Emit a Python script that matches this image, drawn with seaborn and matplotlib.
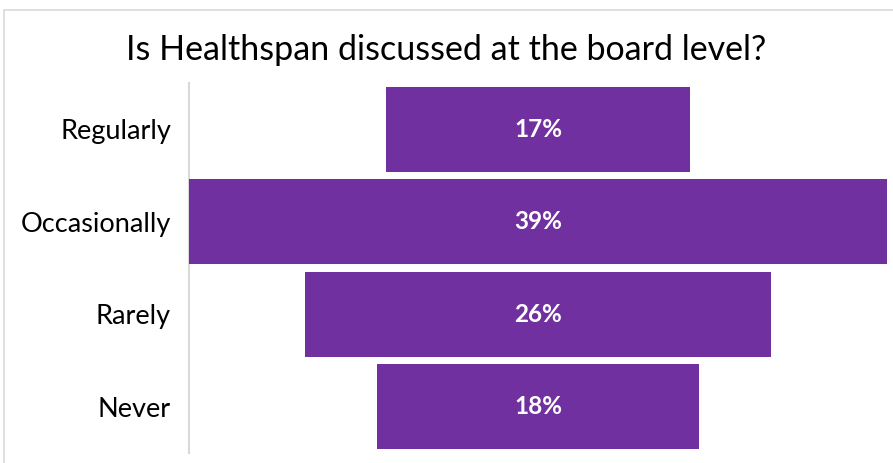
import matplotlib
matplotlib.use("Agg")
import matplotlib.pyplot as plt
import seaborn as sns
import pandas as pd
from matplotlib.patches import Rectangle

# Survey responses
categories = ["Regularly", "Occasionally", "Rarely", "Never"]
shares = [17, 39, 26, 18]
title = "Is Healthspan discussed at the board level?"

purple = "#7030A0"
grid_grey = "#D9D9D9"

sns.set_theme(style="white")
plt.rcParams["font.family"] = ["Lato", "DejaVu Sans"]

df = pd.DataFrame({"answer": categories, "share": shares})

fig = plt.figure(figsize=(8.93, 4.63), dpi=100)
ax = fig.add_axes([189 / 893, 1 - 453 / 463, (887 - 189) / 893, (453 - 83) / 463])

sns.barplot(data=df, x="share", y="answer", orient="h", color=purple,
            saturation=1, width=0.92, ax=ax)

# Centre each bar on zero to form a funnel
half_max = max(shares) / 2
for patch, v in zip(ax.patches, shares):
    patch.set_x(-v / 2)
    patch.set_width(v)
    patch.set_edgecolor("none")
    cy = patch.get_y() + patch.get_height() / 2
    ax.text(0, cy, f"{v}%", ha="center", va="center", color="white",
            fontsize=17.5, fontweight="bold")

ax.set_xlim(-half_max, half_max)
ax.set_ylim(3.5, -0.5)
ax.set_xlabel("")
ax.set_ylabel("")
ax.set_xticks([])
ax.tick_params(axis="y", length=0, pad=13, labelsize=19.5, labelcolor="black")
for side in ["top", "right", "bottom"]:
    ax.spines[side].set_visible(False)
ax.spines["left"].set_color(grid_grey)
ax.spines["left"].set_linewidth(1.5)
ax.spines["left"].set_zorder(0)

fig.text(0.5, 1 - 50 / 463, title, ha="center", va="center", fontsize=24.5,
         color="black")

# Light chart-area frame
fig.patches.append(Rectangle((4 / 893, -0.1), 1.2, 1 - 10.5 / 463 + 0.1,
                             transform=fig.transFigure, fill=False,
                             edgecolor=grid_grey, linewidth=1.2))

fig.savefig("out.png", dpi=100)
